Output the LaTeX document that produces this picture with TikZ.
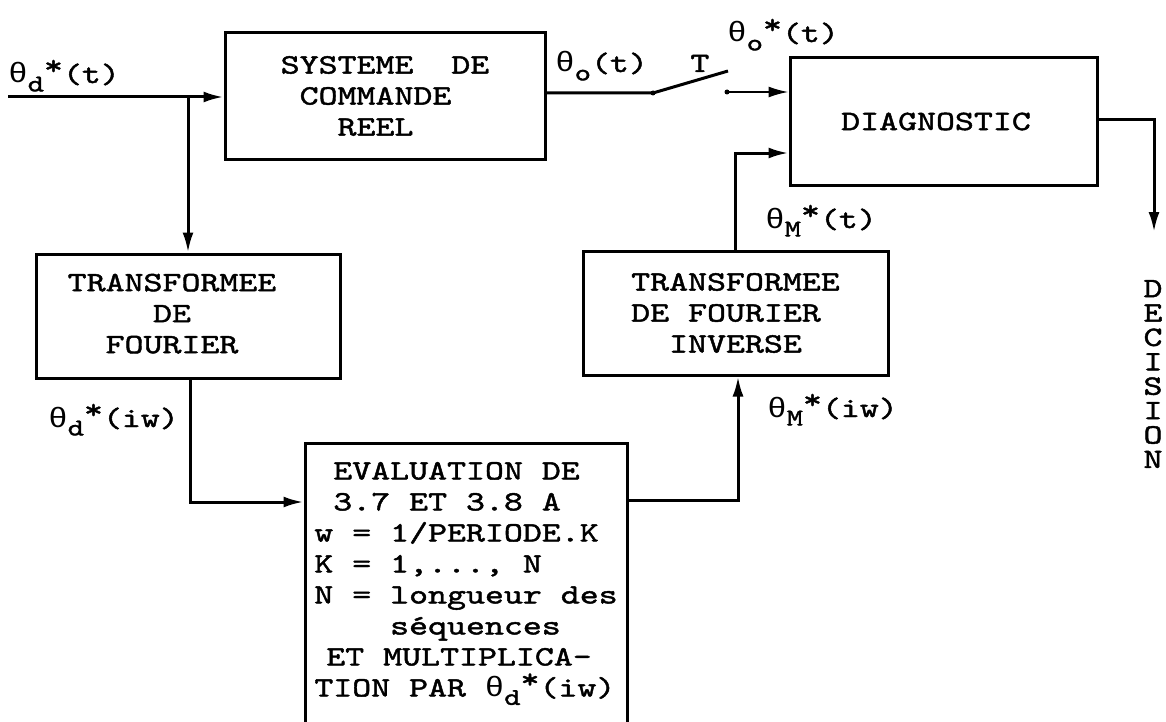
\documentclass[tikz,border=0pt]{standalone}
\usepackage{fontspec}
\setmainfont{lmmono10-regular.otf}[FakeStretch=1.29, FakeBold=1.6]
\newfontfamily\grk{Liberation Mono}[FakeStretch=1.15]
\usetikzlibrary{arrows.meta}
\newcommand\lowsub[1]{\raisebox{-.3em}{\fontsize{12}{12}\selectfont #1}}
\newcommand\upstar{\raisebox{.3em}{*}}
\newcommand\thlab[3]{{\grk θ}\lowsub{#1}#2#3}
\begin{document}
\begin{tikzpicture}[x=0.5pt,y=-0.5pt,
  every node/.style={font=\fontsize{14}{15.5}\selectfont},
  box/.style={draw, line width=1.5pt, inner sep=0pt},
  lbl/.style={inner sep=0pt, anchor=base west},
  conn/.style={line width=1.5pt},
  arr/.style={line width=1.5pt, -{Latex[length=10pt,width=5.5pt]}},
  thinarr/.style={line width=1pt, -{Latex[length=10pt,width=5.5pt]}}
  ]
\useasboundingbox (0,0) rectangle (1166,722);
\clip (0,0) rectangle (1166,722);

% boxes
\node[box, minimum width=160pt, minimum height=63pt, align=left] (sys) at (385,96)
  {SYSTEME\phantom{X} DE\\\phantom{X}COMMANDE\\\phantom{XXX}REEL};
\node[box, minimum width=153.5pt, minimum height=63.5pt] (diag) at (943.5,121.5)
  {DIAGNOSTIC\hspace*{7.5pt}};
\node[box, minimum width=152pt, minimum height=62pt] (tf) at (188,316)
  {\begin{tabular}{@{}c@{}}TRANSFORMEE\\DE\\FOURIER\end{tabular}\hspace*{16pt}};
\node[box, minimum width=152.5pt, minimum height=62pt, align=left] (tfi) at (735.5,313)
  {TRANSFORMEE\\DE FOURIER\\\phantom{XX}INVERSE};
\node[box, minimum width=161pt, minimum height=140.5pt, align=left] (eval) at (466,583.5)
  {\phantom{X}EVALUATION DE\\
   \phantom{X}3.7 ET 3.8 A\\
   w = 1/PERIODE.K\\
   K = 1,..., N\\
   N = longueur des\\
   \phantom{XXXX}séquences\\
   \hspace*{6pt}ET MULTIPLICA-\\
   TION PAR \thlab{d}{\upstar}{(iw)}};

% labels
\node[lbl] (lin) at (8,83) {\thlab{d}{\upstar}{(t)}};
\node[lbl] (lo) at (555,72) {\thlab{o}{}{(t)}};
\node[lbl] (lT) at (690,72) {T};
\node[lbl] (los) at (727,42) {\thlab{o}{\upstar}{(t)}};
\node[lbl] (lms) at (765,228) {\thlab{M}{\upstar}{(t)}};
\node[lbl] (lmi) at (767,417) {\thlab{M}{\upstar}{(iw)}};
\node[lbl] (ldi) at (48,427) {\thlab{d}{\upstar}{(iw)}};
\node[align=center, inner sep=0pt, font=\fontsize{14}{12.2}\selectfont] (dec) at (1153,374)
  {D\\E\\C\\I\\S\\I\\O\\N};

% connectors
\coordinate (in) at (8,97);
\coordinate (j) at (188,97);
\draw[arr] (in) -- (in -| sys.west);
\draw[arr] (j) -- (j |- tf.north);
\coordinate (c1) at (190,502);
\draw[arr] (c1 |- tf.south) -- (c1) -- (c1 -| eval.west);
\coordinate (c2) at (738,500);
\draw[arr] (c2 -| eval.east) -- (c2) -- (c2 |- tfi.south);
\coordinate (c3) at (735,153);
\draw[arr] (c3 |- tfi.north) -- (c3) -- (c3 -| diag.west);
\coordinate (s1) at (653,93);
\coordinate (s2) at (728,71);
\coordinate (s3) at (727,92);
\draw[conn] (s1 -| sys.east) -- (s1) -- (s2);
\fill (s1) circle (2.5);
\fill (s3) circle (2.5);
\draw[thinarr] (s3) -- (s3 -| diag.west);
\coordinate (d1) at (1154,120);
\coordinate (d2) at (1154,232);
\draw[arr] (d1 -| diag.east) -- (d1) -- (d2);
\end{tikzpicture}
\end{document}
